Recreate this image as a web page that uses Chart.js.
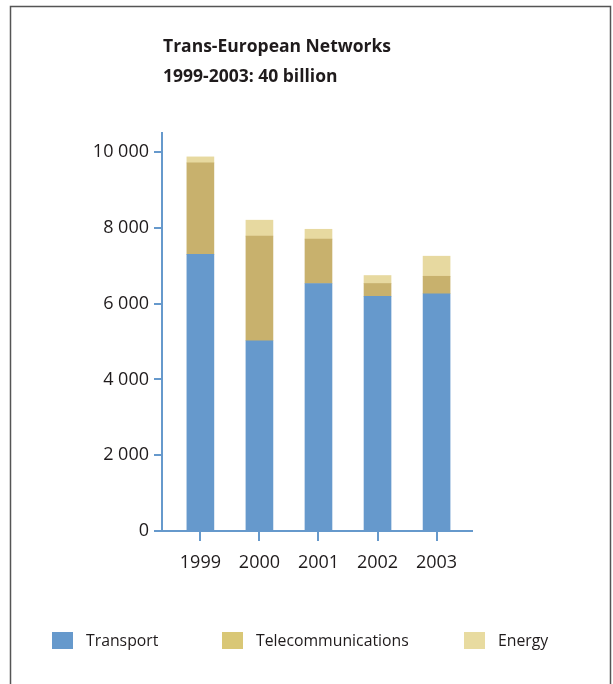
<!DOCTYPE html>
<html>
<head>
<meta charset="utf-8">
<script src="https://cdn.jsdelivr.net/npm/chart.js@4/dist/chart.umd.min.js"></script>
<style>
  html, body { margin: 0; padding: 0; background: #fff; }
  #wrap { width: 613px; height: 684px; }
</style>
</head>
<body>
<div id="wrap"><canvas id="tenChart" width="613" height="684"></canvas></div>
<script>
const years = ['1999', '2000', '2001', '2002', '2003'];
const transport = [7300, 5020, 6530, 6190, 6260];
const telecom = [2410, 2760, 1170, 340, 460];
const energy = [160, 420, 260, 210, 530];
const yTicks = [0, 2000, 4000, 6000, 8000, 10000];
const titleLines = ['Trans-European Networks', '1999-2003: 40 billion'];

const FONT = '"Open Sans", "Noto Sans", sans-serif';
const BLUE = '#6699cc';
const TEXT = '#1f1b1c';

// bars sit on a linear x scale so the first bar can keep its gap from the y axis
const toPoints = (arr) => arr.map((v, i) => ({ x: i, y: v }));

// frame round the figure (no bottom edge, like the print)
const framePlugin = {
  id: 'frame',
  beforeDraw(chart) {
    const ctx = chart.ctx;
    ctx.save();
    ctx.strokeStyle = '#555';
    ctx.lineWidth = 1.5;
    ctx.beginPath();
    ctx.moveTo(10.5, 684);
    ctx.lineTo(10.5, 6.5);
    ctx.lineTo(610.5, 6.5);
    ctx.lineTo(610.5, 684);
    ctx.stroke();
    ctx.restore();
  }
};

// heading, left aligned with the y axis
const headingPlugin = {
  id: 'heading',
  afterDraw(chart) {
    const ctx = chart.ctx;
    ctx.save();
    ctx.fillStyle = TEXT;
    ctx.font = 'bold 17.5px ' + FONT;
    ctx.textBaseline = 'middle';
    titleLines.forEach((t, i) => ctx.fillText(t, 163, 47 + i * 30));
    ctx.restore();
  }
};

// legend row at the bottom, items at fixed spots
const legendSpots = [52, 222, 464];
const legendSwatch = ['#6699cc', '#d9c776', '#e8dba0'];
const legendPlugin = {
  id: 'bottomLegend',
  afterDraw(chart) {
    const ctx = chart.ctx;
    ctx.save();
    ctx.font = '15.8px ' + FONT;
    ctx.textBaseline = 'middle';
    chart.data.datasets.forEach((ds, i) => {
      const x = legendSpots[i];
      ctx.fillStyle = legendSwatch[i];
      ctx.fillRect(x, 632, 21, 17);
      ctx.fillStyle = TEXT;
      ctx.fillText(ds.label, x + 34, 641);
    });
    ctx.restore();
  }
};

new Chart(document.getElementById('tenChart'), {
  type: 'bar',
  data: {
    datasets: [
      { label: 'Transport', data: toPoints(transport), backgroundColor: BLUE },
      { label: 'Telecommunications', data: toPoints(telecom), backgroundColor: '#c8b16d' },
      { label: 'Energy', data: toPoints(energy), backgroundColor: '#e7d9a0' }
    ]
  },
  options: {
    responsive: false,
    animation: false,
    events: [],
    layout: { padding: { left: 0, right: 141, top: 133, bottom: 113 } },
    datasets: { bar: { barThickness: 27 } },
    plugins: {
      legend: { display: false },
      title: { display: false },
      tooltip: { enabled: false }
    },
    scales: {
      x: {
        type: 'linear',
        stacked: true,
        offset: false,
        min: -0.65,
        max: 4.6,
        afterBuildTicks: (scale) => { scale.ticks = years.map((y, i) => ({ value: i })); },
        afterFit: (scale) => { scale.height = 40; },
        ticks: {
          callback: (v) => years[v],
          color: TEXT,
          font: { family: FONT, size: 18 },
          padding: 11
        },
        grid: { offset: false, drawOnChartArea: false, drawTicks: true, tickLength: 10, color: BLUE, lineWidth: 2 },
        border: { display: true, color: BLUE, width: 2 }
      },
      y: {
        stacked: true,
        min: 0,
        max: 10500,
        afterBuildTicks: (scale) => { scale.ticks = yTicks.map((v) => ({ value: v })); },
        afterFit: (scale) => { scale.width = 162; },
        ticks: {
          callback: (v) => String(v).replace(/\B(?=(\d{3})+(?!\d))/g, ' '),
          color: TEXT,
          font: { family: FONT, size: 18 },
          padding: 5
        },
        grid: { drawOnChartArea: false, drawTicks: true, tickLength: 8, color: BLUE, lineWidth: 2 },
        border: { display: true, color: BLUE, width: 2 }
      }
    }
  },
  plugins: [framePlugin, headingPlugin, legendPlugin]
});
</script>
</body>
</html>
